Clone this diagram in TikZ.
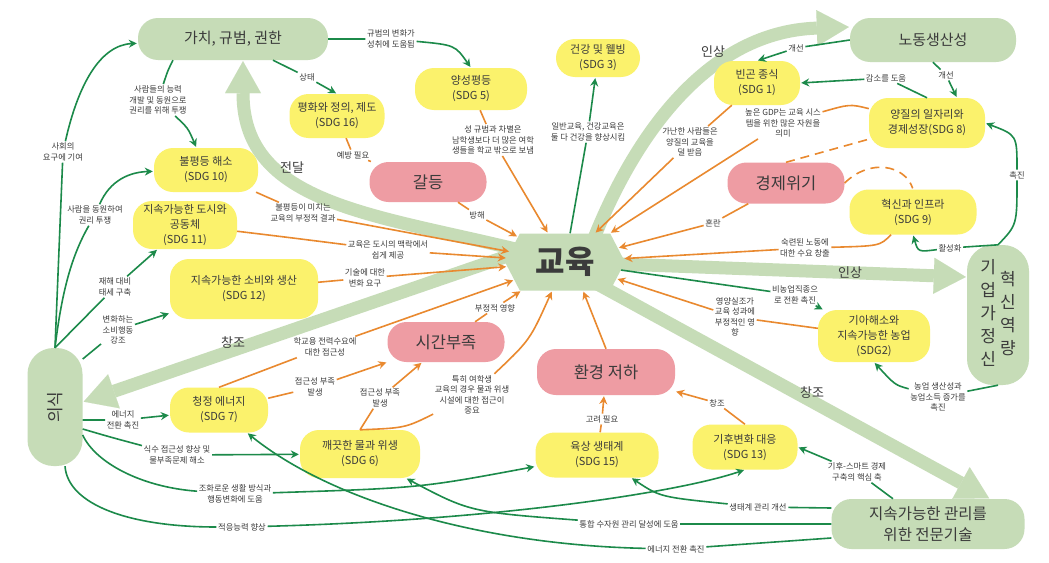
\documentclass[tikz,border=0pt]{standalone}
\usepackage{fontspec}
\setmainfont{Noto Sans CJK KR}
\usetikzlibrary{arrows.meta, shapes.symbols, backgrounds}

\definecolor{leafgreen}{HTML}{C6DCB7}
\definecolor{sdgyellow}{HTML}{FBF26C}
\definecolor{riskpink}{HTML}{EE9CA3}
\definecolor{linkgreen}{HTML}{1C8A4A}
\definecolor{linkorange}{HTML}{E9892F}
\definecolor{inkgray}{HTML}{3B3B3B}

\begin{document}
\begin{tikzpicture}[
        x = 1pt, y = -1pt, % pixel grid of the sketch
        > = {Stealth[length=8pt, width=8pt]}, % arrow head style
        shorten > = 1pt, % don't touch arrow head to node
        line join = round
    ]

    \tikzstyle{theme}=[
        rectangle, rounded corners = 20pt,
        fill = leafgreen, text = inkgray,
        align = center, inner sep = 2pt,
        font = \fontsize{15}{20}\selectfont
    ]
    \tikzstyle{pillar}=[theme, rounded corners = 26pt, font = \fontsize{17}{23}\selectfont]
    \tikzstyle{hub}=[
        signal, signal to = east and west, signal pointer angle = 125,
        fill = leafgreen, text = inkgray, inner sep = 0pt,
        minimum width = 120pt, minimum height = 57pt,
        font = \fontsize{32}{36}\selectfont\bfseries
    ]
    \tikzstyle{goal}=[
        rectangle, rounded corners = 19pt,
        fill = sdgyellow, text = inkgray,
        align = center, inner sep = 2pt,
        font = \fontsize{11}{15}\selectfont
    ]
    \tikzstyle{risk}=[
        rectangle, rounded corners = 19pt,
        fill = riskpink, text = inkgray, inner sep = 2pt,
        font = \fontsize{16.5}{20}\selectfont
    ]
    \tikzstyle{note}=[text = inkgray, align = center, inner sep = 1.5pt, font = \fontsize{8.3}{10.5}\selectfont]
    \tikzstyle{flowtext}=[text = inkgray, font = \fontsize{13}{15}\selectfont]
    \tikzstyle{link}=[->, draw = linkgreen, line width = 1.6pt]
    \tikzstyle{feed}=[->, draw = linkorange, line width = 1.6pt]
    \tikzstyle{flow}=[draw = leafgreen, line width = 13pt,
        -{Triangle[length=32pt, width=36pt, line width=0.01pt]}]

    \useasboundingbox (0,0) rectangle (1049,562);

    % big themes
    \node[theme, minimum width=190pt, minimum height=42pt] (norms) at (233,39) {가치, 규범, 권한};
    \node[theme, minimum width=166pt, minimum height=44pt] (labour) at (933,40) {노동생산성};
    \node[theme, minimum width=193pt, minimum height=50pt, font=\fontsize{15.5}{21}\selectfont] (expert) at (928,524) {지속가능한 관리를\\위한 전문기술};
    \node[pillar, minimum width=62pt, minimum height=140pt] (entre) at (998,315)
        {\begin{tabular}{@{}c@{}}기\\업\\가\\정\\신\end{tabular}\hspace{4pt}\begin{tabular}{@{}c@{}}혁\\신\\역\\량\end{tabular}};
    \node[pillar, minimum width=55pt, minimum height=118pt] (aware) at (55,407) {\rotatebox{90}{의식}};
    \node[hub] (edu) at (565,262) {교육};

    % obstacles
    \node[risk, minimum width=117pt, minimum height=40pt] (conflict) at (428,182) {갈등};
    \node[risk, minimum width=117pt, minimum height=41pt] (crisis) at (786,183) {경제위기};
    \node[risk, minimum width=117pt, minimum height=40pt] (timeless) at (446,342) {시간부족};
    \node[risk, minimum width=138pt, minimum height=46pt] (envdeg) at (606,372) {환경 저하};

    % goals
    \node[goal, minimum width=95pt, minimum height=44pt] (sdgsixteen) at (337,116) {평화와 정의, 제도\\(SDG 16)};
    \node[goal, minimum width=112pt, minimum height=42pt] (sdgfive) at (471,89) {양성평등\\(SDG 5)};
    \node[goal, minimum width=84pt, minimum height=38pt] (sdgthree) at (598,58) {건강 및 웰빙\\(SDG 3)};
    \node[goal, minimum width=86pt, minimum height=44pt] (sdgone) at (757,83) {빈곤 종식\\(SDG 1)};
    \node[goal, minimum width=116pt, minimum height=50pt] (sdgeight) at (927,123) {양질의 일자리와\\경제성장(SDG 8)};
    \node[goal, minimum width=127pt, minimum height=45pt] (sdgnine) at (913,212) {혁신과 인프라\\(SDG 9)};
    \node[goal, minimum width=112pt, minimum height=52pt] (sdgtwo) at (874,336) {기아해소와\\지속가능한 농업\\(SDG2)};
    \node[goal, minimum width=104pt, minimum height=44pt] (sdgten) at (206,170) {불평등 해소\\(SDG 10)};
    \node[goal, minimum width=104pt, minimum height=48pt] (sdgeleven) at (185,225) {지속가능한 도시와\\공동체\\(SDG 11)};
    \node[goal, minimum width=148pt, minimum height=60pt] (sdgtwelve) at (244,289) {지속가능한 소비와 생산\\(SDG 12)};
    \node[goal, minimum width=98pt, minimum height=45pt] (sdgseven) at (219,410) {청정 에너지\\(SDG 7)};
    \node[goal, minimum width=120pt, minimum height=48pt] (sdgsix) at (360,454) {깨끗한 물과 위생\\(SDG 6)};
    \node[goal, minimum width=123pt, minimum height=45pt] (sdgfifteen) at (597,455) {육상 생태계\\(SDG 15)};
    \node[goal, minimum width=105pt, minimum height=45pt] (sdgthirteen) at (745,447) {기후변화 대응\\(SDG 13)};

    % labels of the big flows
    \node[flowtext] (ftransfer) at (292,168) {전달};
    \node[flowtext] (fraiseA) at (713,52) {인상};
    \node[flowtext] (fraiseB) at (850,273) {인상};
    \node[flowtext] (fcreateA) at (233,343) {창조};
    \node[flowtext] (fcreateB) at (812,393) {창조};

    % notes
    \node[note] (nsociety) at (63,152) {사회의\\요구에 기여};
    \node[note] (nmobil) at (95,215) {사람을 동원하여\\권리 투쟁};
    \node[note] (ndisaster) at (115,287) {재해 대비\\태세 구축};
    \node[note] (nconsume) at (118,330) {변화하는\\소비행동\\강조};
    \node[note] (ncapab) at (158,100) {사람들의 능력\\개발 및 동원으로\\권리를 위해 투쟁};
    \node[note] (nstate) at (307,77) {상태};
    \node[note] (nnormchange) at (391,39) {규범의 변화가\\성취에 도움됨};
    \node[note] (nhealth) at (588,132) {일반교육, 건강교육은\\둘 다 건강을 향상시킴};
    \node[note] (nimproveA) at (796,48) {개선};
    \node[note] (nimproveB) at (946,75) {개선};
    \node[note] (nreduce) at (886,78) {감소를 도움};
    \node[note] (npromote) at (1017,175) {촉진};
    \node[note] (nactivate) at (950,248) {활성화};
    \node[note] (nnonfarm) at (795,295) {비농업직종으\\로 전환 촉진};
    \node[note] (nfarm) at (938,397) {농업 생산성과\\농업소득 증가를\\촉진};
    \node[note] (nclimate) at (857,472) {기후-스마트 경제\\구축의 핵심 축};
    \node[note] (neco) at (758,507) {생태계 관리 개선};
    \node[note] (nwater) at (629,524) {통합 수자원 관리 달성에 도움};
    \node[note] (nenergyB) at (676,549) {에너지 전환 촉진};
    \node[note] (nenergyA) at (123,420) {에너지\\전환 촉진};
    \node[note] (ndrink) at (177,455) {식수 접근성 향상 및\\물부족문제 해소};
    \node[note] (nharmony) at (235,494) {조화로운 생활 방식과\\행동변화에 도움};
    \node[note] (nadapt) at (242,527) {적응능력 향상};
    \node[note] (nhinder) at (477,215) {방해};
    \node[note] (nprevent) at (353,155) {예방 필요};
    \node[note] (ngender) at (493,140) {성 규범과 차별은\\남학생보다 더 많은 여학\\생들을 학교 밖으로 보냄};
    \node[note] (ninequal) at (303,213) {불평등이 미치는\\교육의 부정적 결과};
    \node[note] (nurban) at (388,250) {교육은 도시의 맥락에서\\쉽게 제공};
    \node[note] (ntech) at (365,278) {기술에 대한\\변화 요구};
    \node[note] (npower) at (325,347) {학교용 전력수요에\\대한 접근성};
    \node[note] (nnegative) at (495,308) {부정적 영향};
    \node[note] (nlackA) at (315,387) {접근성 부족\\발생};
    \node[note] (nlackB) at (380,398) {접근성 부족\\발생};
    \node[note] (ngirls) at (472,395) {특히 여학생\\교육의 경우 물과 위생\\시설에 대한 접근이\\중요};
    \node[note] (nconsider) at (602,419) {고려 필요};
    \node[note] (ncreate) at (717,403) {창조};
    \node[note] (npoor) at (690,142) {가난한 사람들은\\양질의 교육을\\덜 받음};
    \node[note] (ngdp) at (783,123) {높은 GDP는 교육 시스\\템을 위한 많은 자원을\\의미};
    \node[note] (nchaos) at (713,223) {혼란};
    \node[note] (nskill) at (805,248) {숙련된 노동에\\대한 수요 창출};
    \node[note] (nmalnut) at (735,317) {영양실조가\\교육 성과에\\부정적인 영\\향};

    % green influences
    \draw[link] (aware.north) -- (nsociety) .. controls (78,85) and (100,45) .. (norms);
    \draw[link] (aware.north) .. controls (62,290) and (72,255) .. (nmobil) .. controls (110,180) and (130,172) .. (sdgten);
    \draw[link] (aware.north) -- (ndisaster) -- (sdgeleven);
    \draw[link] (aware.60) -- (nconsume) -- (sdgtwelve);
    \draw[link] ([xshift=-60pt]norms.south) .. controls (168,70) .. (ncapab) .. controls (188,128) .. (sdgten);
    \draw[link] ([xshift=40pt]norms.south) -- (nstate) -- (sdgsixteen.north);
    \draw[link] (norms.east) -- (nnormchange) .. controls (455,45) .. (sdgfive.north);
    \draw[link] (edu) -- (nhealth) -- (sdgthree);
    \draw[link] (labour.west) -- (nimproveA) -- (sdgone.north);
    \draw[link] (labour.south) -- (nimproveB) -- ([xshift=30pt]sdgeight.north);
    \draw[link] (sdgeight.north) -- (nreduce) -- (sdgone.east);
    \draw[link] (entre.north) .. controls (1017,225) .. (npromote) .. controls (1017,135) .. (sdgeight.east);
    \draw[link] (entre.north) -- (nactivate) .. controls (918,252) .. (sdgnine.south);
    \draw[link] (edu) -- (nnonfarm) -- (sdgtwo);
    \draw[link] (entre.south) -- (nfarm) .. controls (895,385) .. (sdgtwo.south);
    \draw[link] ([xshift=-35pt]expert.north) -- (nclimate) -- (sdgthirteen.east);
    \draw[link] ([yshift=16pt]expert.west) -- (neco) .. controls (660,497) .. (sdgfifteen);
    \draw[link] (expert.west) -- (nwater) .. controls (470,512) .. (sdgsix);
    \draw[link] ([yshift=-14pt]expert.west) -- (nenergyB) .. controls (480,545) and (330,500) .. (sdgseven);
    \draw[link] ([yshift=-13pt]aware.east) -- (nenergyA) -- (sdgseven);
    \draw[link] ([yshift=-22pt]aware.east) .. controls (110,437) .. (ndrink) -- (sdgsix);
    \draw[link] ([yshift=-28pt]aware.east) .. controls (95,462) and (140,487) .. (nharmony) .. controls (420,488) .. (sdgfifteen);
    \draw[link] ([xshift=10pt]aware.south) .. controls (68,505) and (130,527) .. (nadapt) .. controls (500,520) and (680,492) .. (sdgthirteen.south);

    % orange effects on education
    \draw[feed] (conflict) -- (nhinder) -- (edu);
    \draw[feed, -] (sdgsixteen) -- (nprevent) -- (conflict);
    \draw[feed] (sdgfive) -- (ngender) -- (edu);
    \draw[feed] (sdgten) -- (ninequal) -- (edu);
    \draw[feed] (sdgeleven) .. controls (285,237) .. (nurban) -- (edu);
    \draw[feed] (sdgtwelve) -- (ntech) -- (edu);
    \draw[feed] (sdgseven.north) -- (npower) -- (edu);
    \draw[feed] (timeless) -- (nnegative) -- (edu);
    \draw[feed] (sdgseven) -- (nlackA) -- (timeless);
    \draw[feed] (sdgsix.north) -- (nlackB) -- (timeless);
    \draw[feed] (sdgsix.north) .. controls (405,428) .. (ngirls) .. controls (530,340) .. (edu);
    \draw[feed] (envdeg.north) -- ([xshift=18pt]edu.south);
    \draw[feed] (sdgfifteen) -- (nconsider) -- (envdeg);
    \draw[feed] (sdgthirteen.north) -- (ncreate) -- (envdeg);
    \draw[feed] (sdgone) -- (npoor) -- (edu);
    \draw[feed] (sdgeight) .. controls (850,104) .. (ngdp) -- (edu);
    \draw[feed, -, dash pattern=on 9pt off 6pt] (crisis.north) -- (sdgeight);
    \draw[feed, -, dash pattern=on 9pt off 6pt] (crisis.east) .. controls (870,158) and (905,165) .. (sdgnine.north);
    \draw[feed] (crisis) -- (nchaos) -- (edu);
    \draw[feed] (sdgnine) .. controls (880,246) .. (nskill) -- (edu);
    \draw[feed] (sdgtwo) -- (nmalnut) -- (edu);

    % big flows out of education
    \begin{pgfonlayer}{background}
        \fill[white] (0,0) rectangle (1049,562);
        \draw[flow] (edu.center) .. controls (400,215) and (243,215) .. ([xshift=10pt]norms.south);
        \draw[flow] ([xshift=20pt]edu.center) .. controls (625,150) and (700,32) .. ([yshift=13pt]labour.west);
        \draw[flow] (edu.center) -- ([yshift=38pt]entre.west);
        \draw[flow] ([xshift=-40pt,yshift=12pt]edu.center) -- ([yshift=5pt]aware.east);
        \draw[flow] ([xshift=25pt,yshift=-18pt]edu.center) -- ([xshift=62pt]expert.north);
    \end{pgfonlayer}

\end{tikzpicture}
\end{document}
